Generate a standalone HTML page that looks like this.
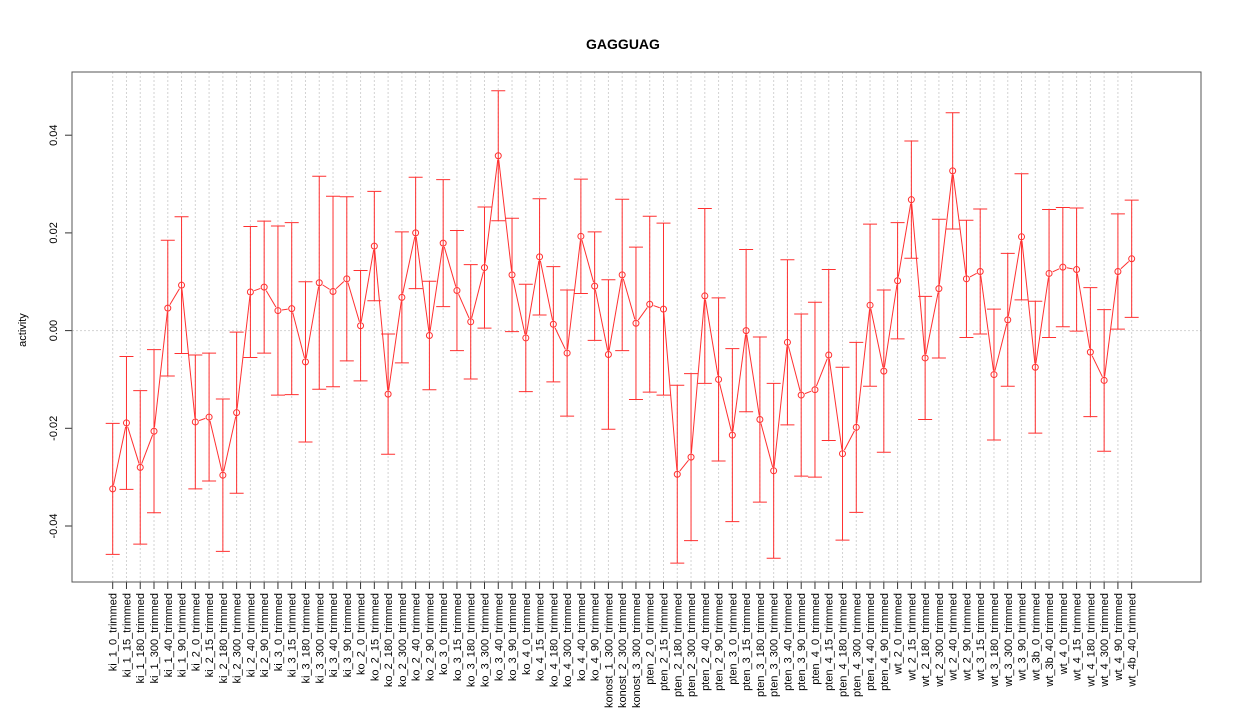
<!DOCTYPE html>
<html><head><meta charset="utf-8"><style>
html,body{margin:0;padding:0;background:#fff;}
svg{display:block;font-family:"Liberation Sans",sans-serif;}
</style></head><body>
<svg id="chart" width="1245" height="720" viewBox="0 0 1245 720" xmlns="http://www.w3.org/2000/svg">
<rect x="0" y="0" width="1245" height="720" fill="#fff"/>
<text x="623" y="49" text-anchor="middle" font-size="14" font-weight="bold">GAGGUAG</text>
<text transform="translate(26,330) rotate(-90)" text-anchor="middle" font-size="11">activity</text>
<g id="grid"></g>
<g id="yaxis"></g>
<g id="xaxis"></g>
<g id="series"></g>
<rect x="72" y="72" width="1129" height="510" fill="none" stroke="#555" stroke-width="1"/>
</svg>
<script>
const categories = ["ki_1_0_trimmed","ki_1_15_trimmed","ki_1_180_trimmed","ki_1_300_trimmed","ki_1_40_trimmed","ki_1_90_trimmed","ki_2_0_trimmed","ki_2_15_trimmed","ki_2_180_trimmed","ki_2_300_trimmed","ki_2_40_trimmed","ki_2_90_trimmed","ki_3_0_trimmed","ki_3_15_trimmed","ki_3_180_trimmed","ki_3_300_trimmed","ki_3_40_trimmed","ki_3_90_trimmed","ko_2_0_trimmed","ko_2_15_trimmed","ko_2_180_trimmed","ko_2_300_trimmed","ko_2_40_trimmed","ko_2_90_trimmed","ko_3_0_trimmed","ko_3_15_trimmed","ko_3_180_trimmed","ko_3_300_trimmed","ko_3_40_trimmed","ko_3_90_trimmed","ko_4_0_trimmed","ko_4_15_trimmed","ko_4_180_trimmed","ko_4_300_trimmed","ko_4_40_trimmed","ko_4_90_trimmed","konost_1_300_trimmed","konost_2_300_trimmed","konost_3_300_trimmed","pten_2_0_trimmed","pten_2_15_trimmed","pten_2_180_trimmed","pten_2_300_trimmed","pten_2_40_trimmed","pten_2_90_trimmed","pten_3_0_trimmed","pten_3_15_trimmed","pten_3_180_trimmed","pten_3_300_trimmed","pten_3_40_trimmed","pten_3_90_trimmed","pten_4_0_trimmed","pten_4_15_trimmed","pten_4_180_trimmed","pten_4_300_trimmed","pten_4_40_trimmed","pten_4_90_trimmed","wt_2_0_trimmed","wt_2_15_trimmed","wt_2_180_trimmed","wt_2_300_trimmed","wt_2_40_trimmed","wt_2_90_trimmed","wt_3_15_trimmed","wt_3_180_trimmed","wt_3_300_trimmed","wt_3_90_trimmed","wt_3b_0_trimmed","wt_3b_40_trimmed","wt_4_0_trimmed","wt_4_15_trimmed","wt_4_180_trimmed","wt_4_300_trimmed","wt_4_90_trimmed","wt_4b_40_trimmed"];
const means = [-0.0324,-0.0189,-0.0280,-0.0206,0.0046,0.0093,-0.0187,-0.0177,-0.0296,-0.0168,0.0079,0.0089,0.0041,0.0045,-0.0064,0.0098,0.0080,0.0106,0.0010,0.0173,-0.0130,0.0068,0.0200,-0.0010,0.0179,0.0082,0.0018,0.0129,0.0358,0.0114,-0.0015,0.0151,0.0013,-0.0046,0.0193,0.0091,-0.0049,0.0114,0.0015,0.0054,0.0044,-0.0294,-0.0259,0.0071,-0.0100,-0.0214,0.0000,-0.0182,-0.0287,-0.0024,-0.0132,-0.0121,-0.0050,-0.0252,-0.0198,0.0052,-0.0083,0.0102,0.0268,-0.0056,0.0086,0.0327,0.0106,0.0121,-0.0090,0.0022,0.0192,-0.0075,0.0117,0.0130,0.0125,-0.0044,-0.0102,0.0121,0.0147];
const errors = [0.0134,0.0136,0.0157,0.0167,0.0139,0.0140,0.0137,0.0131,0.0156,0.0165,0.0134,0.0135,0.0173,0.0176,0.0164,0.0218,0.0195,0.0168,0.0113,0.0112,0.0123,0.0134,0.0114,0.0111,0.0130,0.0123,0.0117,0.0124,0.0133,0.0116,0.0110,0.0119,0.0118,0.0129,0.0117,0.0111,0.0153,0.0155,0.0156,0.0180,0.0176,0.0182,0.0171,0.0179,0.0167,0.0177,0.0166,0.0169,0.0179,0.0169,0.0166,0.0179,0.0175,0.0177,0.0174,0.0166,0.0166,0.0119,0.0120,0.0126,0.0142,0.0119,0.0120,0.0128,0.0134,0.0136,0.0129,0.0135,0.0131,0.0122,0.0126,0.0132,0.0145,0.0118,0.0120];
const yTicks = [-0.04,-0.02,0.00,0.02,0.04];
const yTickLabels = ["-0.04","-0.02","0.00","0.02","0.04"];

const NS = "http://www.w3.org/2000/svg";
const X0 = 112.7, DX = 13.77;
function xPos(i){ return X0 + i*DX; }
function yPos(v){ return 330.6 - v*4885; }
function mk(tag, attrs, parent){
  const e = document.createElementNS(NS, tag);
  for (const k in attrs) e.setAttribute(k, attrs[k]);
  parent.appendChild(e);
  return e;
}
const grid = document.getElementById('grid');
const yaxis = document.getElementById('yaxis');
const xaxis = document.getElementById('xaxis');
const series = document.getElementById('series');

categories.forEach((c,i)=>{
  const g = mk('line',{x1:xPos(i),x2:xPos(i),y1:72,y2:582,stroke:'#d3d3d3','stroke-dasharray':'2,2','stroke-width':1},grid);
  
  
  const t = mk('line',{x1:xPos(i),x2:xPos(i),y1:582,y2:589,stroke:'#333','stroke-width':1},xaxis);
  
  
  const lbl = mk('text',{transform:'translate('+(xPos(i)+4)+',593) rotate(-90)','text-anchor':'end','font-size':11},xaxis);
  lbl.textContent = c;
  
  
});
const zl = mk('line',{x1:72,x2:1201,y1:yPos(0),y2:yPos(0),stroke:'#d3d3d3','stroke-dasharray':'2,2','stroke-width':1},grid);



yTicks.forEach((v,i)=>{
  const t = mk('line',{x1:65,x2:72,y1:yPos(v),y2:yPos(v),stroke:'#333','stroke-width':1},yaxis);
  
  
  const l = mk('text',{transform:'translate(57,'+yPos(v)+') rotate(-90)','text-anchor':'middle','font-size':11},yaxis);
  l.textContent = yTickLabels[i];
  
  
});

const RED = '#ff3030';
means.forEach((m,i)=>{
  const x = xPos(i), yt = yPos(m+errors[i]), yb = yPos(m-errors[i]);
  const eb = mk('path',{d:'M'+x+','+yt+'V'+yb+'M'+(x-7)+','+yt+'H'+(x+7)+'M'+(x-7)+','+yb+'H'+(x+7),stroke:RED,'stroke-width':1,fill:'none'},series);
  
  
  if (i < means.length-1){
    const x2 = xPos(i+1), y1 = yPos(m), y2 = yPos(means[i+1]);
    const dx = x2-x, dy = y2-y1, L = Math.hypot(dx,dy), g = 4;
    if (L > 2*g){
      const seg = mk('line',{x1:x+dx*g/L,y1:y1+dy*g/L,x2:x2-dx*g/L,y2:y2-dy*g/L,stroke:RED,'stroke-width':1},series);
      
      
    }
  }
  const p = mk('circle',{cx:x,cy:yPos(m),r:3,fill:'none',stroke:RED,'stroke-width':1},series);
  
  
});
</script>
</body></html>
